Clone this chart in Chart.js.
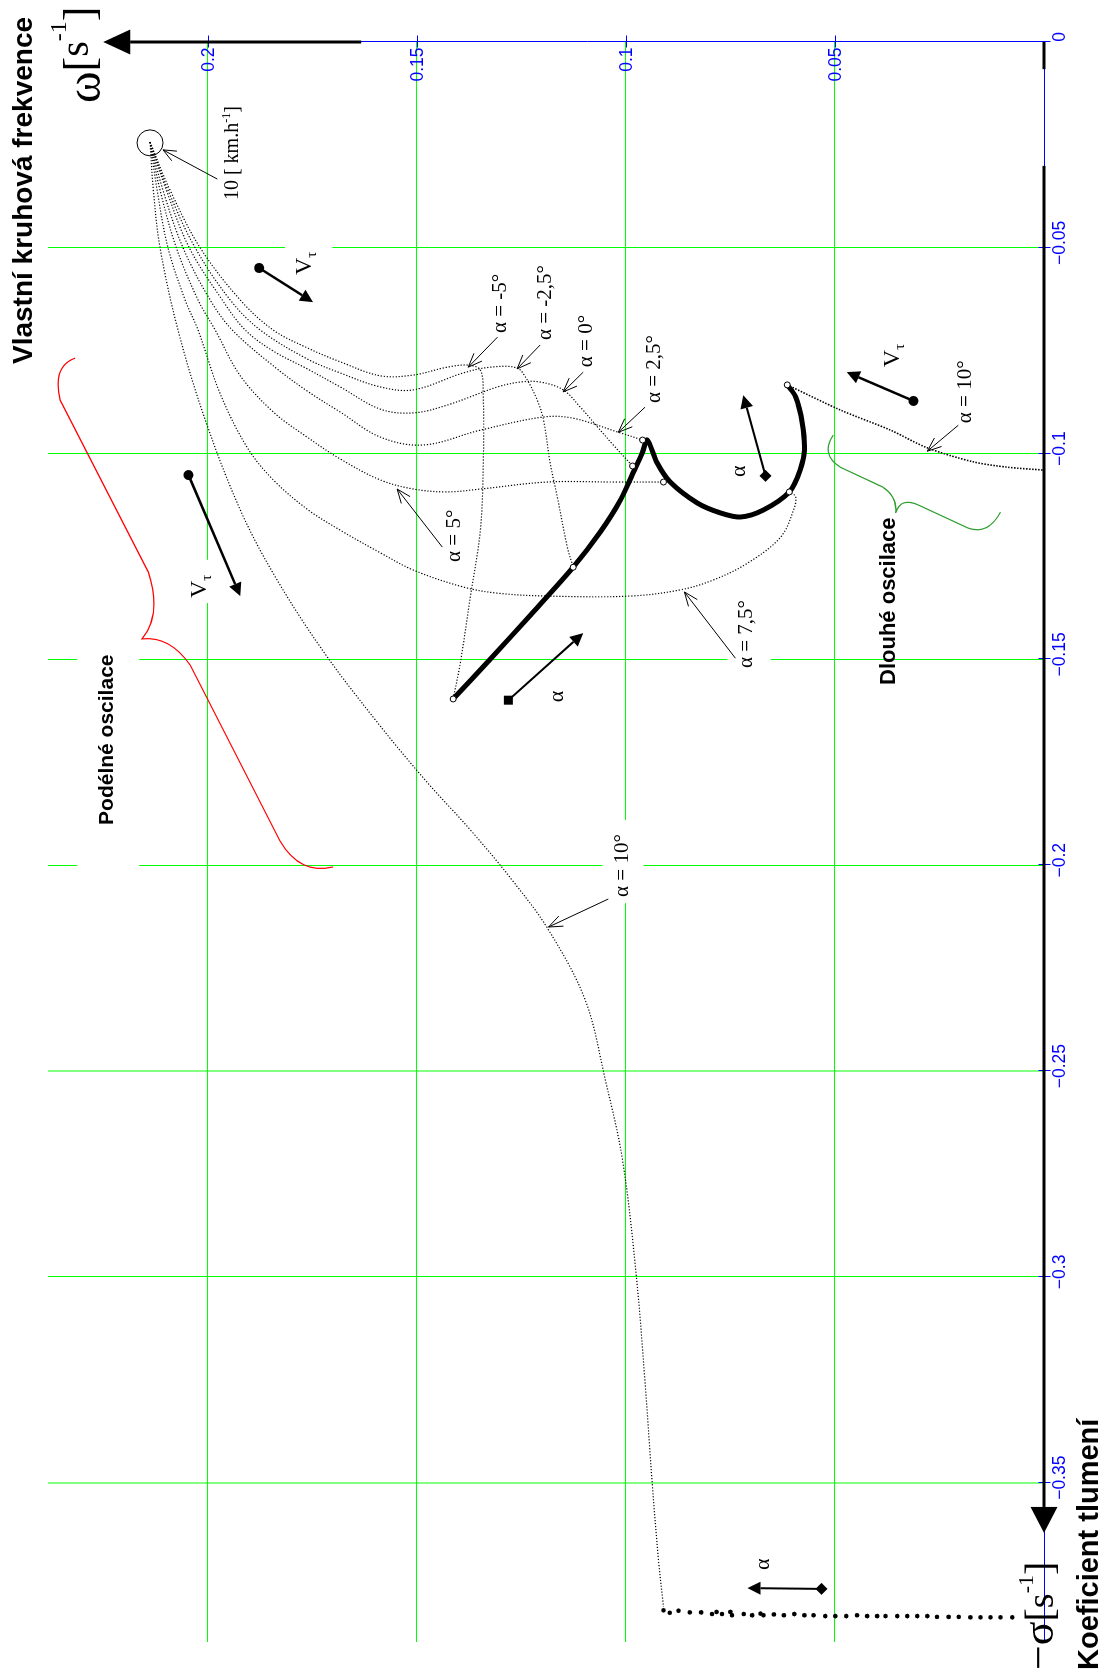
<!DOCTYPE html>
<html>
<head>
<meta charset="utf-8">
<script src="https://cdn.jsdelivr.net/npm/chart.js@4/dist/chart.umd.min.js"></script>
<style>
  html, body { margin: 0; padding: 0; background: #fff; overflow: hidden; }
  body { width: 1106px; height: 1677px; position: relative; }
  /* the plot is laid out landscape and turned a quarter turn onto the portrait page */
  #wrap { position: absolute; left: 0; top: 0; width: 1677px; height: 1106px;
          transform-origin: 0 0; transform: translate(0, 1677px) rotate(-90deg); }
</style>
</head>
<body>
<div id="wrap"><canvas id="c" width="1677" height="1106"></canvas></div>
<script>
// ---------- axis ticks ----------
const sigmaTicks = [0, -0.05, -0.1, -0.15, -0.2, -0.25, -0.3, -0.35];
const omegaTicks = [0.05, 0.1, 0.15, 0.2];

// ---------- speed sweeps for each angle of attack (sigma, omega) ----------
const sigmaAlphaM5 = [-0.0243,-0.0360,-0.0500,-0.0627,-0.0700,-0.0743,-0.0777,-0.0811,-0.0809,-0.0790,-0.0785,-0.0797,-0.0862,-0.1023,-0.1186,-0.1348,-0.1509,-0.1596];
const omegaAlphaM5 = [0.2138,0.2090,0.2018,0.1922,0.1843,0.1762,0.1683,0.1587,0.1508,0.1427,0.1377,0.1348,0.1341,0.1341,0.1348,0.1372,0.1396,0.1413];

const sigmaAlphaM25 = [-0.0243,-0.0360,-0.0500,-0.0627,-0.0700,-0.0770,-0.0804,-0.0838,-0.0845,-0.0804,-0.0790,-0.0792,-0.0821,-0.0870,-0.0918,-0.1023,-0.1105,-0.1227,-0.1276];
const omegaAlphaM25 = [0.2138,0.2095,0.2030,0.1946,0.1874,0.1762,0.1683,0.1587,0.1508,0.1389,0.1324,0.1260,0.1236,0.1212,0.1197,0.1181,0.1164,0.1140,0.1126];

const sigmaAlpha0 = [-0.0243,-0.0360,-0.0500,-0.0627,-0.0700,-0.0751,-0.0794,-0.0838,-0.0892,-0.0901,-0.0882,-0.0838,-0.0826,-0.0826,-0.0845,-0.0887,-0.0935,-0.0979,-0.1030];
const omegaAlpha0 = [0.2138,0.2099,0.2044,0.1965,0.1910,0.1843,0.1762,0.1683,0.1587,0.1508,0.1427,0.1307,0.1252,0.1205,0.1150,0.1109,0.1068,0.1030,0.0984];

const sigmaAlpha25 = [-0.0243,-0.0360,-0.0500,-0.0627,-0.0700,-0.0787,-0.0848,-0.0899,-0.0960,-0.0979,-0.0943,-0.0911,-0.0914,-0.0948,-0.0967];
const omegaAlpha25 = [0.2138,0.2107,0.2059,0.1994,0.1941,0.1843,0.1762,0.1683,0.1587,0.1484,0.1348,0.1197,0.1126,0.1018,0.0960];

const sigmaAlpha5 = [-0.0243,-0.0360,-0.0500,-0.0627,-0.0700,-0.0811,-0.0899,-0.0960,-0.1013,-0.1064,-0.1086,-0.1093,-0.1086,-0.1069,-0.1069,-0.1069];
const omegaAlpha5 = [0.2138,0.2114,0.2075,0.2023,0.1982,0.1922,0.1843,0.1762,0.1683,0.1587,0.1508,0.1427,0.1348,0.1188,0.1030,0.0910];

const sigmaAlpha75 = [-0.0243,-0.0360,-0.0500,-0.0627,-0.0700,-0.0855,-0.0986,-0.1064,-0.1135,-0.1186,-0.1241,-0.1283,-0.1324,-0.1339,-0.1346,-0.1346,-0.1331,-0.1307,-0.1266,-0.1203,-0.1137,-0.1105,-0.1093];
const omegaAlpha75 = [0.2138,0.2121,0.2095,0.2054,0.2023,0.1970,0.1905,0.1843,0.1762,0.1683,0.1587,0.1508,0.1389,0.1307,0.1188,0.0989,0.0870,0.0791,0.0709,0.0630,0.0599,0.0594,0.0609];

const sigmaAlpha10 = [-0.0243,-0.0360,-0.0500,-0.0700,-0.0918,-0.1137,-0.1295,-0.1477,-0.1647,-0.1793,-0.1914,-0.2036,-0.2157,-0.2328,-0.2522,-0.2716,-0.2998,-0.3258,-0.3501,-0.3688,-0.3802];
const omegaAlpha10 = [0.2138,0.2130,0.2114,0.2071,0.2006,0.1922,0.1841,0.1726,0.1599,0.1480,0.1372,0.1272,0.1185,0.1097,0.1049,0.1008,0.0975,0.0954,0.0937,0.0922,0.0910];

// alpha = 10 deg, high-speed end (heavy dots)
const sigmaAlpha10Tail = [-0.3810,-0.3816,-0.3811,-0.3815,-0.3815,-0.3819,-0.3814,-0.3819,-0.3814,-0.3822,-0.3819,-0.3822,-0.3818,-0.3822,-0.3820,-0.3822,-0.3819,-0.3822,-0.3822,-0.3824,-0.3824,-0.3824,-0.3822,-0.3824,-0.3824,-0.3824,-0.3824,-0.3824,-0.3824,-0.3824,-0.3826,-0.3826,-0.3826,-0.3827,-0.3827,-0.3827,-0.3827,-0.3827];
const omegaAlpha10Tail = [0.0910,0.0895,0.0874,0.0847,0.0820,0.0794,0.0783,0.0770,0.0750,0.0746,0.0718,0.0698,0.0678,0.0671,0.0646,0.0622,0.0597,0.0573,0.0551,0.0523,0.0499,0.0473,0.0447,0.0423,0.0399,0.0379,0.0351,0.0327,0.0303,0.0279,0.0256,0.0228,0.0204,0.0176,0.0152,0.0128,0.0104,0.0076];

// alpha = 10 deg, long-period branch
const sigmaAlpha10Long = [-0.0833,-0.0894,-0.0943,-0.0986,-0.1020,-0.1033,-0.1040];
const omegaAlpha10Long = [0.0614,0.0487,0.0367,0.0279,0.0169,0.0087,0.0000];

// locus at the top speed while alpha sweeps from -5 to 10 deg
const sigmaAlphaSweep = [-0.1596,-0.1499,-0.1392,-0.1276,-0.1190,-0.1113,-0.1045,-0.0996,-0.0967,-0.1023,-0.1069,-0.1120,-0.1144,-0.1154,-0.1137,-0.1093,-0.1040,-0.0991,-0.0926,-0.0862,-0.0833];
const omegaAlphaSweep = [0.1413,0.1324,0.1228,0.1126,0.1061,0.1013,0.0982,0.0960,0.0949,0.0925,0.0894,0.0829,0.0774,0.0726,0.0671,0.0609,0.0583,0.0573,0.0578,0.0594,0.0614];

// ---------- build datasets ----------
const zip = (s, w) => s.map((v, i) => ({ x: v, y: w[i] }));
const speedSweeps = [
  zip(sigmaAlphaM5, omegaAlphaM5), zip(sigmaAlphaM25, omegaAlphaM25), zip(sigmaAlpha0, omegaAlpha0),
  zip(sigmaAlpha25, omegaAlpha25), zip(sigmaAlpha5, omegaAlpha5), zip(sigmaAlpha75, omegaAlpha75),
  zip(sigmaAlpha10, omegaAlpha10)
];
const longBranch = zip(sigmaAlpha10Long, omegaAlpha10Long);
// open circles where each sweep meets the top-speed locus
const sweepEnds = speedSweeps.slice(0, 6).map(p => p[p.length - 1]).concat([longBranch[0]]);

const datasets = [
  { data: sweepEnds, showLine: false, pointRadius: 3, pointBackgroundColor: '#fff',
    pointBorderColor: '#000', pointBorderWidth: 1, order: 0 },
  { data: zip(sigmaAlpha10Tail, omegaAlpha10Tail), showLine: false, pointRadius: 2.3,
    pointBackgroundColor: '#000', pointBorderWidth: 0, order: 1 },
  { data: zip(sigmaAlphaSweep, omegaAlphaSweep), showLine: true, borderColor: '#000',
    borderWidth: 5, tension: 0.3, pointRadius: 0, order: 2 },
  { data: longBranch, showLine: true, borderColor: '#000', borderWidth: 1.6,
    borderDash: [1.5, 1.5], tension: 0.3, pointRadius: 0, order: 3 }
].concat(speedSweeps.map(d => ({
  data: d, showLine: true, borderColor: '#000', borderWidth: 1.2, borderDash: [1.2, 1.8],
  tension: 0.35, pointRadius: 0, order: 4
})));

// ---------- annotation layer ----------
const SERIF = '"Liberation Serif", "DejaVu Serif", serif';
const SANS = '"Liberation Sans", Arial, sans-serif';

const labelBackings = [
  [-0.0493, 0.1815, -0.0578, 0.1702],
  [-0.1258, 0.2054, -0.1363, 0.1982],
  [-0.1331, 0.0757, -0.1531, 0.0654],
  [-0.1890, 0.1056, -0.2092, 0.0958],
  [-0.1465, 0.2312, -0.2024, 0.2164]
];
const speedArrows = [
  { from: [-0.0549, 0.1877], to: [-0.0632, 0.1748], label: [-0.0566, 0.1767] },
  { from: [-0.1052, 0.2046], to: [-0.1346, 0.1922], label: [-0.1351, 0.2018] },
  { from: [-0.0872, 0.0312], to: [-0.0802, 0.0472], label: [-0.0790, 0.0362] }
];
const alphaArrows = [
  { from: [-0.1599, 0.1281], to: [-0.1436, 0.1102], cap: 'square', label: [-0.1604, 0.1164] },
  { from: [-0.1054, 0.0666], to: [-0.0858, 0.0719], cap: 'diamond', label: [-0.1057, 0.0730] },
  { from: [-0.3758, 0.0532], to: [-0.3756, 0.0709], cap: 'diamond', label: [-0.3712, 0.0672] }
];
const pointers = [
  { text: 'α = -5°',   at: [-0.0707, 0.1299], from: [-0.0717, 0.1307], to: [-0.0790, 0.1377] },
  { text: 'α = -2,5°', at: [-0.0724, 0.1193], from: [-0.0736, 0.1205], to: [-0.0794, 0.1260] },
  { text: 'α = 0°',    at: [-0.0790, 0.1095], from: [-0.0802, 0.1102], to: [-0.0850, 0.1150] },
  { text: 'α = 2,5°',  at: [-0.0877, 0.0932], from: [-0.0887, 0.0954], to: [-0.0948, 0.1018] },
  { text: 'α = 5°',    at: [-0.1263, 0.1411], from: [-0.1227, 0.1439], to: [-0.1086, 0.1547] },
  { text: 'α = 7,5°',  at: [-0.1521, 0.0711], from: [-0.1497, 0.0738], to: [-0.1336, 0.0860] },
  { text: 'α = 10°',   at: [-0.0926, 0.0187], from: [-0.0931, 0.0205], to: [-0.0994, 0.0279] },
  { text: 'α = 10°',   at: [-0.2077, 0.1007], from: [-0.2082, 0.1042], to: [-0.2150, 0.1185] }
];
// braces: [move, (quad ctrl, pt) | (line pt)...]
const redBrace = [
  ['M', -0.0768, 0.2317], ['Q', -0.0787, 0.2372, -0.0870, 0.2353], ['L', -0.1288, 0.2142],
  ['Q', -0.1392, 0.2109, -0.1450, 0.2157], ['Q', -0.1443, 0.2090, -0.1514, 0.2042],
  ['L', -0.1941, 0.1827], ['Q', -0.2024, 0.1779, -0.2004, 0.1700]
];
const greenBrace = [
  ['M', -0.0955, 0.0504], ['Q', -0.1003, 0.0535, -0.1033, 0.0487], ['L', -0.1081, 0.0386],
  ['Q', -0.1105, 0.0350, -0.1144, 0.0355], ['Q', -0.1105, 0.0343, -0.1125, 0.0300],
  ['L', -0.1181, 0.0181], ['Q', -0.1198, 0.0133, -0.1142, 0.0104]
];

function openHead(ctx, x1, y1, x2, y2, len, ang) {
  const a = Math.atan2(y2 - y1, x2 - x1);
  ctx.beginPath();
  ctx.moveTo(x2 - len * Math.cos(a - ang), y2 - len * Math.sin(a - ang));
  ctx.lineTo(x2, y2);
  ctx.lineTo(x2 - len * Math.cos(a + ang), y2 - len * Math.sin(a + ang));
  ctx.stroke();
}
function solidArrow(ctx, x1, y1, x2, y2, len, half, width) {
  const a = Math.atan2(y2 - y1, x2 - x1);
  const bx = x2 - len * Math.cos(a), by = y2 - len * Math.sin(a);
  ctx.lineWidth = width;
  ctx.beginPath(); ctx.moveTo(x1, y1); ctx.lineTo(bx, by); ctx.stroke();
  ctx.beginPath();
  ctx.moveTo(x2, y2);
  ctx.lineTo(bx + half * Math.sin(a), by - half * Math.cos(a));
  ctx.lineTo(bx - half * Math.sin(a), by + half * Math.cos(a));
  ctx.closePath(); ctx.fill();
}
function runs(ctx, x, y, parts) {
  // parts: [text, font, dy]
  ctx.textAlign = 'left';
  for (const [t, f, dy] of parts) {
    ctx.font = f;
    ctx.fillText(t, x, y + dy);
    x += ctx.measureText(t).width;
  }
  return x;
}

const decor = {
  id: 'decor',
  beforeDatasetsDraw(chart) {
    const ctx = chart.ctx, sx = chart.scales.x, sy = chart.scales.y;
    const P = (s, w) => [sx.getPixelForValue(s), sy.getPixelForValue(w)];
    ctx.save();
    ctx.fillStyle = '#fff';
    for (const [s1, w1, s2, w2] of labelBackings) {
      const [x1, y1] = P(s1, w1), [x2, y2] = P(s2, w2);
      ctx.fillRect(Math.min(x1, x2), Math.min(y1, y2), Math.abs(x2 - x1), Math.abs(y2 - y1));
    }
    // blue axes with crossing tick marks
    const ax = Math.round(sx.getPixelForValue(0)) + 0.5;
    const ay = Math.round(sy.getPixelForValue(0)) + 0.5;
    ctx.strokeStyle = '#0000ff'; ctx.lineWidth = 1;
    ctx.beginPath();
    ctx.moveTo(chart.chartArea.left, ay); ctx.lineTo(ax, ay);
    ctx.moveTo(ax, ay); ctx.lineTo(ax, sy.getPixelForValue(0.2185));
    for (const v of sigmaTicks) {
      const x = Math.round(sx.getPixelForValue(v)) + 0.5;
      ctx.moveTo(x, ay - 6); ctx.lineTo(x, ay + 6);
    }
    for (const v of omegaTicks) {
      const y = Math.round(sy.getPixelForValue(v)) + 0.5;
      ctx.moveTo(ax - 6, y); ctx.lineTo(ax + 6, y);
    }
    ctx.stroke();
    // omega tick labels, inside the plot next to the axis
    ctx.fillStyle = '#0000ff';
    ctx.font = '17.5px ' + SANS;
    ctx.textAlign = 'right'; ctx.textBaseline = 'middle';
    for (const v of omegaTicks) ctx.fillText(String(v), ax - 6, sy.getPixelForValue(v) + 1);
    ctx.restore();
  },
  afterDatasetsDraw(chart) {
    const ctx = chart.ctx, sx = chart.scales.x, sy = chart.scales.y;
    const P = (s, w) => [sx.getPixelForValue(s), sy.getPixelForValue(w)];
    ctx.save();
    ctx.strokeStyle = '#000'; ctx.fillStyle = '#000';
    ctx.lineCap = 'butt';

    // circle marking the 10 km/h start of every sweep
    {
      const [cx, cy] = P(-0.0245, 0.2138);
      ctx.lineWidth = 1;
      ctx.beginPath(); ctx.arc(cx, cy, 13, 0, Math.PI * 2); ctx.stroke();
      const [f1, f2] = P(-0.0333, 0.1977), [t1, t2] = P(-0.0262, 0.2107);
      ctx.beginPath(); ctx.moveTo(f1, f2); ctx.lineTo(t1, t2); ctx.stroke();
      openHead(ctx, f1, f2, t1, t2, 14, 0.4);
      const [lx, ly] = P(-0.0384, 0.1939);
      ctx.textBaseline = 'middle';
      runs(ctx, lx, ly, [['10 [ km.h', '20px ' + SERIF, 0], ['-1', '12px ' + SERIF, -6], [']', '20px ' + SERIF, 0]]);
    }

    // pointer labels
    ctx.lineWidth = 1;
    for (const p of pointers) {
      const [x1, y1] = P(...p.from), [x2, y2] = P(...p.to);
      ctx.beginPath(); ctx.moveTo(x1, y1); ctx.lineTo(x2, y2); ctx.stroke();
      openHead(ctx, x1, y1, x2, y2, 15, 0.38);
      const [lx, ly] = P(...p.at);
      ctx.font = '21px ' + SERIF; ctx.textBaseline = 'middle'; ctx.textAlign = 'left';
      ctx.fillText(p.text, lx, ly);
    }

    // speed direction arrows
    for (const a of speedArrows) {
      const [x1, y1] = P(...a.from), [x2, y2] = P(...a.to);
      solidArrow(ctx, x1, y1, x2, y2, 13, 6.5, 2.5);
      ctx.beginPath(); ctx.arc(x1, y1, 5, 0, Math.PI * 2); ctx.fill();
      const [lx, ly] = P(...a.label);
      ctx.textBaseline = 'middle';
      runs(ctx, lx, ly, [['V', '24px ' + SERIF, 0], ['τ', '15px ' + SERIF, 7]]);
    }

    // angle-of-attack direction arrows
    for (const a of alphaArrows) {
      const [x1, y1] = P(...a.from), [x2, y2] = P(...a.to);
      solidArrow(ctx, x1, y1, x2, y2, 13, 6.5, 2);
      ctx.beginPath();
      if (a.cap === 'square') {
        ctx.rect(x1 - 4.5, y1 - 4.5, 9, 9);
      } else {
        ctx.moveTo(x1, y1 - 6); ctx.lineTo(x1 + 6, y1); ctx.lineTo(x1, y1 + 6); ctx.lineTo(x1 - 6, y1); ctx.closePath();
      }
      ctx.fill();
      const [lx, ly] = P(...a.label);
      ctx.font = '22px ' + SERIF; ctx.textBaseline = 'middle'; ctx.textAlign = 'left';
      ctx.fillText('α', lx, ly);
    }

    // braces
    const brace = (path, color) => {
      ctx.strokeStyle = color; ctx.lineWidth = 1.2;
      ctx.beginPath();
      for (const seg of path) {
        if (seg[0] === 'M') ctx.moveTo(...P(seg[1], seg[2]));
        else if (seg[0] === 'L') ctx.lineTo(...P(seg[1], seg[2]));
        else { const c = P(seg[1], seg[2]), e = P(seg[3], seg[4]); ctx.quadraticCurveTo(c[0], c[1], e[0], e[1]); }
      }
      ctx.stroke();
    };
    brace(redBrace, '#ff0000');
    brace(greenBrace, '#2e9e2e');

    ctx.fillStyle = '#000';
    ctx.font = 'bold 21px ' + SANS; ctx.textBaseline = 'middle'; ctx.textAlign = 'left';
    ctx.fillText('Podélné oscilace', ...P(-0.1902, 0.2240));
    ctx.font = 'bold 22px ' + SANS;
    ctx.fillText('Dlouhé oscilace', ...P(-0.1562, 0.0370));

    // black arrows over the axes
    ctx.strokeStyle = '#000'; ctx.fillStyle = '#000';
    {
      const ax = sx.getPixelForValue(0);
      const y0 = sy.getPixelForValue(0.1633), y1 = sy.getPixelForValue(0.2250);
      solidArrow(ctx, ax, y0, ax, y1, 27, 12.5, 3);
      const ay = sy.getPixelForValue(0);
      const x0 = sx.getPixelForValue(-0.0301), x1 = sx.getPixelForValue(-0.3622);
      solidArrow(ctx, x0, ay, x1, ay, 26, 13.5, 3);
      ctx.lineWidth = 3;
      ctx.beginPath(); ctx.moveTo(sx.getPixelForValue(0), ay); ctx.lineTo(sx.getPixelForValue(-0.0066), ay); ctx.stroke();
    }

    // axis titles
    ctx.textBaseline = 'middle';
    ctx.font = 'bold 28px ' + SANS; ctx.textAlign = 'left';
    ctx.fillText('Vlastní kruhová frekvence', 1313, 24);
    ctx.font = 'bold 29px ' + SANS;
    ctx.fillText('Koeficient tlumení', 7, 1090);

    ctx.textBaseline = 'alphabetic';
    runs(ctx, 1574, 100, [['ω', '48px ' + SERIF, 0], ['[', '44px ' + SERIF, -6], ['s', '40px ' + SERIF, -12],
      ['-1', '24px ' + SERIF, -34], [']', '44px ' + SERIF, -6]]);
    runs(ctx, 7, 1053, [['−σ', '44px ' + SERIF, 0], ['[', '40px ' + SERIF, 0], ['s', '38px ' + SERIF, 0],
      ['-1', '22px ' + SERIF, -20], [']', '40px ' + SERIF, 0]]);
    ctx.restore();
  }
};

const gridIsSoft = v => Math.abs(v + 0.25) < 1e-9 || Math.abs(v + 0.35) < 1e-9;

new Chart(document.getElementById('c'), {
  type: 'scatter',
  data: { datasets },
  options: {
    responsive: false, animation: false, devicePixelRatio: 1, events: [],
    layout: { padding: { left: 35, top: 48, right: 0, bottom: 0 } },
    plugins: { legend: { display: false }, tooltip: { enabled: false } },
    scales: {
      x: {
        type: 'linear', min: -0.3887, max: 0,
        afterBuildTicks: s => { s.ticks = sigmaTicks.map(v => ({ value: v })); },
        afterFit: s => { s.height = 62; },
        border: { display: false },
        grid: {
          drawTicks: false,
          color: c => (c.tick && c.tick.value === 0) ? 'rgba(0,0,0,0)' : (c.tick && gridIsSoft(c.tick.value) ? '#80ff80' : '#00ff00'),
          lineWidth: c => (c.tick && gridIsSoft(c.tick.value)) ? 2 : 1
        },
        ticks: {
          color: '#0000ff', font: { family: 'Liberation Sans', size: 17.5 }, padding: 6,
          maxRotation: 0, minRotation: 0, autoSkip: false, labelOffset: 5,
          callback: v => v === 0 ? '0' : '\u2212' + Math.abs(v)
        }
      },
      y: {
        type: 'linear', position: 'right', min: 0, max: 0.2382,
        afterBuildTicks: s => { s.ticks = omegaTicks.map(v => ({ value: v })); },
        afterFit: s => { s.width = 42; },
        border: { display: false },
        grid: { drawTicks: false, color: '#00ff00', lineWidth: 1 },
        ticks: { display: false }
      }
    }
  },
  plugins: [decor]
});
</script>
</body>
</html>
